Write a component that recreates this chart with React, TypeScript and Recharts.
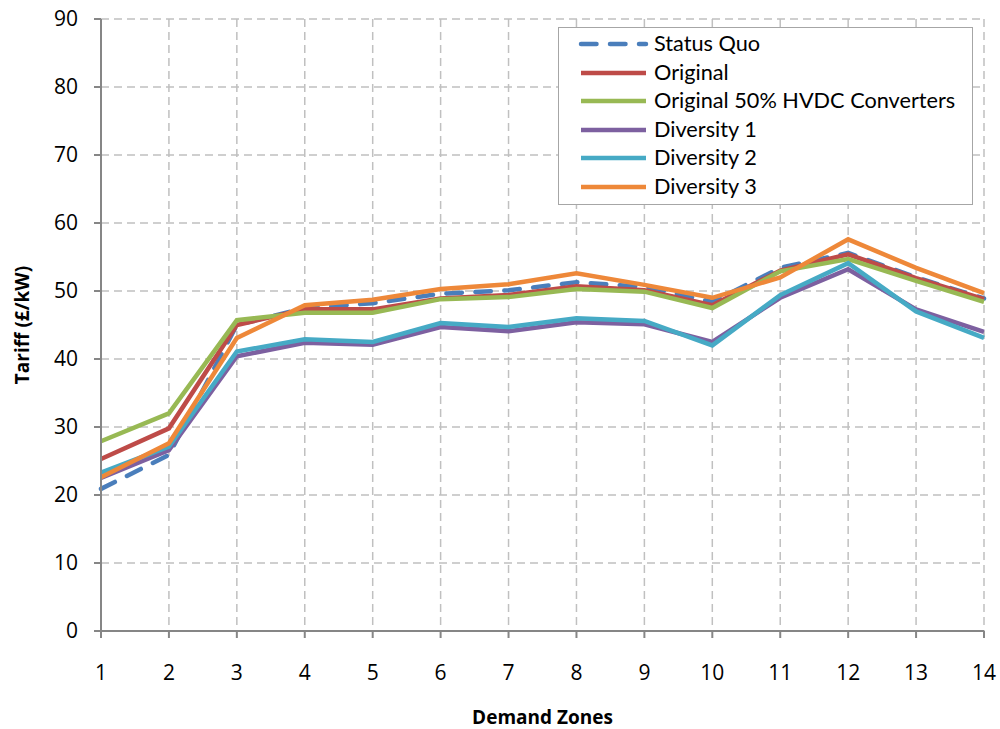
import { LineChart, Line, XAxis, YAxis, CartesianGrid, Legend, Label } from "recharts";

const zones = ["1", "2", "3", "4", "5", "6", "7", "8", "9", "10", "11", "12", "13", "14"];
const yTicks = [0, 10, 20, 30, 40, 50, 60, 70, 80, 90];

const statusQuo = [20.9, 25.9, 45.0, 47.5, 48.2, 49.6, 50.1, 51.3, 50.6, 48.4, 53.4, 55.6, 52.0, 48.9];
const original = [25.3, 29.8, 45.0, 47.3, 47.3, 48.9, 49.4, 50.7, 50.1, 47.9, 53.0, 55.4, 51.9, 48.8];
const original50 = [27.9, 32.0, 45.7, 46.8, 46.8, 48.8, 49.1, 50.3, 49.9, 47.5, 52.9, 54.7, 51.5, 48.4];
const diversity1 = [22.5, 26.6, 40.4, 42.4, 42.1, 44.7, 44.1, 45.4, 45.1, 42.5, 49.0, 53.2, 47.3, 44.0];
const diversity2 = [23.3, 27.1, 41.1, 42.9, 42.5, 45.3, 44.7, 46.0, 45.6, 42.0, 49.4, 54.1, 47.0, 43.1];
const diversity3 = [22.6, 27.6, 43.1, 47.9, 48.7, 50.3, 51.0, 52.6, 50.9, 49.0, 52.0, 57.6, 53.4, 49.7];

const series = [
  { key: "sq", name: "Status Quo", color: "#4A7EBB", dash: "15.5 13.5", values: statusQuo },
  { key: "orig", name: "Original", color: "#BE4B48", dash: undefined, values: original },
  { key: "orig50", name: "Original 50% HVDC Converters", color: "#98B954", dash: undefined, values: original50 },
  { key: "div1", name: "Diversity 1", color: "#7D60A0", dash: undefined, values: diversity1 },
  { key: "div2", name: "Diversity 2", color: "#46AAC5", dash: undefined, values: diversity2 },
  { key: "div3", name: "Diversity 3", color: "#EE8839", dash: undefined, values: diversity3 },
];

const data = zones.map((zone, i) => {
  const row: Record<string, string | number> = { zone };
  series.forEach((s) => {
    row[s.key] = s.values[i];
  });
  return row;
});

const FONT = "'Open Sans', sans-serif";
const LEGEND_FONT = "Lato, sans-serif";

function LegendBox() {
  return (
    <div
      style={{
        width: 413,
        height: 174,
        border: "1px solid #a6a6a6",
        background: "#fff",
        boxSizing: "content-box",
        paddingTop: 2,
      }}
    >
      {series.map((s) => (
        <div key={s.key} style={{ display: "flex", alignItems: "center", height: 28.5 }}>
          <svg width={90} height={10} style={{ flexShrink: 0 }}>
            <line
              x1={22}
              x2={87}
              y1={5}
              y2={5}
              stroke={s.color}
              strokeWidth={4.5}
              strokeDasharray={s.dash}
              strokeLinecap={s.dash ? "round" : "butt"}
            />
          </svg>
          <span style={{ fontFamily: LEGEND_FONT, fontSize: 21.7, color: "#000", marginLeft: 5, lineHeight: 1 }}>
            {s.name}
          </span>
        </div>
      ))}
    </div>
  );
}

export default function App() {
  // placed at the page origin so the body margin does not push the chart off the 1000x729 view
  return (
    <div style={{ position: "absolute", left: 0, top: 0, width: 1000, height: 729 }}>
      <LineChart width={1000} height={729} data={data} margin={{ top: 19, right: 16, left: 8, bottom: 0 }}>
        <CartesianGrid stroke="#c0c0c0" strokeWidth={1.5} strokeDasharray="8 5" />
        <XAxis
          dataKey="zone"
          height={98}
          stroke="#868686"
          strokeWidth={2}
          tickSize={7}
          tickMargin={27}
          tick={{ fill: "#000", fontSize: 21, fontFamily: FONT }}
          interval={0}
        >
          <Label
            value="Demand Zones"
            position="insideBottom"
            offset={5}
            style={{ fontFamily: FONT, fontSize: 19, fontWeight: 700, fill: "#000" }}
          />
        </XAxis>
        <YAxis
          width={93}
          domain={[0, 90]}
          ticks={yTicks}
          stroke="#868686"
          strokeWidth={2}
          tickSize={7}
          tickMargin={16}
          tick={{ fill: "#000", fontSize: 21, fontFamily: FONT }}
        >
          <Label
            value="Tariff (£/kW)"
            angle={-90}
            position="insideLeft"
            offset={14}
            style={{ fontFamily: FONT, fontSize: 19, fontWeight: 700, fill: "#000", textAnchor: "middle" }}
          />
        </YAxis>
        <Legend
          layout="vertical"
          align="center"
          verticalAlign="middle"
          wrapperStyle={{ left: 558, top: 27, width: 415 }}
          content={() => <LegendBox />}
        />
        {series.map((s) => (
          <Line
            key={s.key}
            dataKey={s.key}
            name={s.name}
            stroke={s.color}
            strokeWidth={4.5}
            strokeDasharray={s.dash}
            strokeLinecap={s.dash ? "round" : "butt"}
            dot={false}
            activeDot={false}
            isAnimationActive={false}
          />
        ))}
      </LineChart>
    </div>
  );
}
